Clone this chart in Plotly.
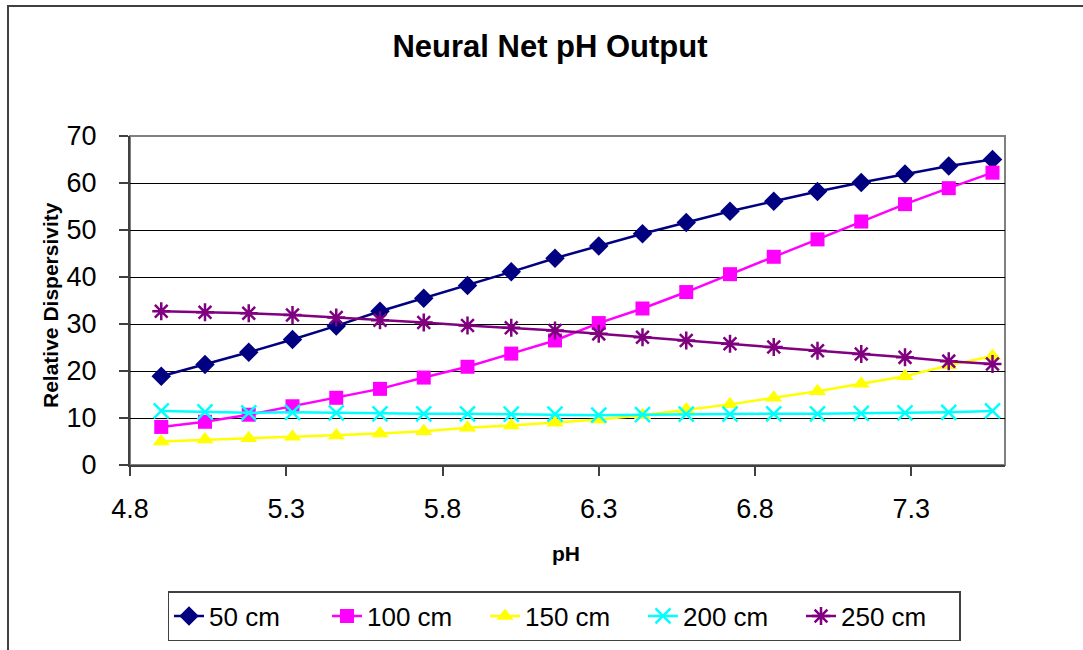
import plotly.graph_objects as go

ph = [4.90, 5.04, 5.18, 5.32, 5.46, 5.60, 5.74, 5.88, 6.02, 6.16,
      6.30, 6.44, 6.58, 6.72, 6.86, 7.00, 7.14, 7.28, 7.42, 7.56]

cm50 = [18.9, 21.4, 24.0, 26.7, 29.6, 32.7, 35.5, 38.2, 41.1, 44.0,
        46.6, 49.2, 51.6, 54.0, 56.1, 58.2, 60.1, 61.9, 63.6, 65.0]
cm100 = [8.1, 9.2, 10.7, 12.5, 14.3, 16.2, 18.6, 20.9, 23.7, 26.5,
         30.2, 33.3, 36.8, 40.6, 44.3, 48.0, 51.8, 55.5, 58.9, 62.2]
cm150 = [5.0, 5.4, 5.7, 6.0, 6.3, 6.7, 7.2, 7.9, 8.4, 9.0,
         9.7, 10.6, 11.8, 12.9, 14.3, 15.7, 17.3, 18.9, 21.2, 23.2]
cm200 = [11.5, 11.3, 11.1, 11.2, 11.1, 10.9, 10.9, 10.9, 10.8, 10.8,
         10.6, 10.7, 10.8, 10.8, 10.9, 10.9, 11.0, 11.1, 11.2, 11.5]
cm250 = [32.7, 32.5, 32.3, 31.9, 31.4, 30.8, 30.3, 29.7, 29.2, 28.6,
         27.9, 27.2, 26.5, 25.8, 25.1, 24.3, 23.6, 22.9, 22.1, 21.5]

series_names = ["50 cm", "100 cm", "150 cm", "200 cm", "250 cm"]
series_vals = [cm50, cm100, cm150, cm200, cm250]
colors = ["#000080", "#FF00FF", "#FFFF00", "#00FFFF", "#800080"]
symbols = ["diamond", "square", "triangle-up", "x-thin-open", "asterisk-open"]
sizes = [15, 14, 15, 15, 15]

FONT = "Liberation Sans, Arial, sans-serif"

W, H = 1083, 650
L, R, T, B = 130, 1005, 136, 465  # plot area in pixels

fig = go.Figure()
for name, vals, c, s, sz in zip(series_names, series_vals, colors, symbols, sizes):
    open_sym = s.endswith("open")
    fig.add_trace(go.Scatter(
        x=ph, y=vals, name=name, mode="lines+markers",
        line=dict(color=c, width=2.5),
        marker=dict(symbol=s, size=sz, color=c,
                    line=dict(color=c, width=2.5 if open_sym else 0)),
    ))

def px_x(p):
    return (p - L) / (R - L)

def px_y(p):
    return (B - p) / (B - T)

fig.update_layout(
    width=W, height=H,
    margin=dict(l=L, r=W - R, t=T, b=H - B, autoexpand=False),
    paper_bgcolor="white", plot_bgcolor="white",
    font=dict(family=FONT, color="black", size=26),
    title=dict(text="<b>Neural Net pH Output</b>", x=550 / W, xanchor="center",
               y=1 - 46 / H, yanchor="middle",
               font=dict(family=FONT, size=31, color="black")),
    showlegend=True,
    legend=dict(orientation="h", x=px_x(564), xanchor="center",
                y=px_y(591), yanchor="top",
                bordercolor="#404040", borderwidth=1.5,
                font=dict(family=FONT, size=26, color="black"),
                entrywidth=113, entrywidthmode="pixels",
                itemsizing="trace"),
    xaxis=dict(range=[4.8, 7.6], tick0=4.8, dtick=0.5, showgrid=False,
               showline=True, linecolor="#404040", linewidth=2,
               ticks="outside", ticklen=9, tickcolor="#404040", tickwidth=1.5,
               ticklabelstandoff=10, zeroline=False, automargin=False,
               tickfont=dict(family=FONT, size=27, color="black")),
    yaxis=dict(range=[0, 70], dtick=10, showgrid=True, gridcolor="black",
               gridwidth=1, showline=True, linecolor="#404040", linewidth=2,
               ticks="outside", ticklen=9, tickcolor="#404040", tickwidth=1.5,
               ticklabelstandoff=17, zeroline=False, automargin=False,
               tickfont=dict(family=FONT, size=27, color="black")),
    shapes=[
        dict(type="rect", xref="paper", yref="paper", x0=0, x1=1, y0=0, y1=1,
             line=dict(color="#808080", width=2), layer="below"),
        dict(type="rect", xref="paper", yref="paper",
             x0=px_x(8), x1=px_x(1095), y0=px_y(670), y1=px_y(6),
             line=dict(color="#404040", width=2), layer="below"),
    ],
    annotations=[
        dict(text="<b>Relative Dispersivity</b>", xref="paper", yref="paper",
             x=px_x(50), y=px_y(305), textangle=-90, showarrow=False,
             xanchor="center", yanchor="middle",
             font=dict(family=FONT, size=21, color="black")),
        dict(text="<b>pH</b>", xref="paper", yref="paper",
             x=px_x(566), y=px_y(553), showarrow=False,
             xanchor="center", yanchor="middle",
             font=dict(family=FONT, size=21, color="black")),
    ],
)

fig.write_html("out.html")
